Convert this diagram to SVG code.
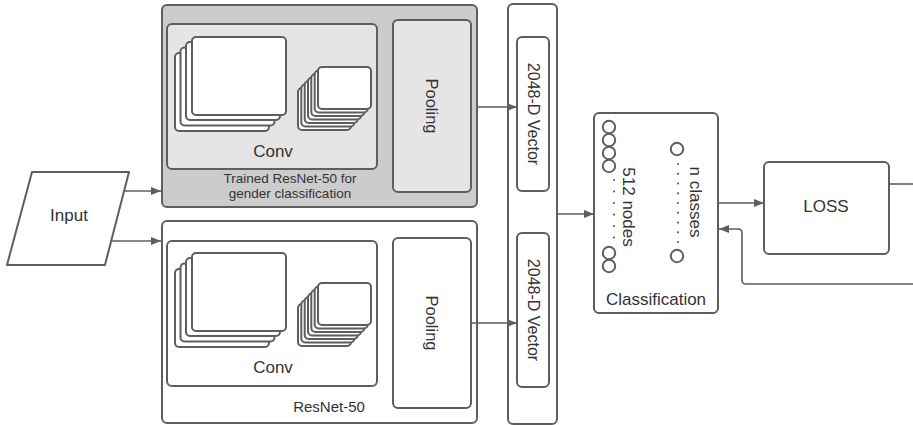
<svg xmlns="http://www.w3.org/2000/svg" width="913" height="425" viewBox="0 0 913 425">
<defs>
<style>
.s{stroke:#5e5e5e;stroke-width:2;fill:#ffffff}
.dk{fill:#cccccc}
.lt{fill:#e5e5e5}
.t{font-family:"Liberation Sans",Arial,sans-serif;fill:#333333;text-anchor:middle}
.c{fill:none;stroke:#5e5e5e;stroke-width:1.6}
.cir{fill:#ffffff;stroke:#5e5e5e;stroke-width:2}
.dot{fill:#5e5e5e}
</style>
<marker id="ah" viewBox="0 0 10 10" refX="10" refY="5" markerWidth="10" markerHeight="10" markerUnits="userSpaceOnUse" orient="auto">
<path d="M0,1 L10,5 L0,9 z" fill="#5e5e5e"/>
</marker>
<g id="bigstack">
<rect x="175" y="53" width="94" height="78" rx="4" class="s"/>
<rect x="180.5" y="47.5" width="94" height="78" rx="4" class="s"/>
<rect x="186" y="42" width="94" height="78" rx="4" class="s"/>
<rect x="192" y="37" width="94" height="78" rx="4" class="s"/>
</g>
<g id="smallstack">
<rect x="298" y="88" width="53" height="42" rx="4" class="s"/>
<rect x="301.3" y="84.5" width="53" height="42" rx="4" class="s"/>
<rect x="304.7" y="81" width="53" height="42" rx="4" class="s"/>
<rect x="308" y="77.5" width="53" height="42" rx="4" class="s"/>
<rect x="311.3" y="74" width="53" height="42" rx="4" class="s"/>
<rect x="314.7" y="70.5" width="53" height="42" rx="4" class="s"/>
<rect x="318" y="67" width="53" height="42" rx="4" class="s"/>
</g>
</defs>
<rect width="913" height="425" fill="#ffffff"/>

<g id="input">
<polygon points="32,172 129,172 105,265 7,265" class="s" stroke-linejoin="round"/>
<text x="69" y="221" class="t" font-size="17">Input</text>
</g>

<g id="trained-resnet">
<rect x="162" y="5" width="315" height="202" rx="5" class="s dk"/>
<rect x="167" y="24" width="210" height="145" rx="5" class="s lt"/>
<use href="#bigstack"/>
<use href="#smallstack"/>
<text x="273" y="157" class="t" font-size="17">Conv</text>
<text x="290" y="183" class="t" font-size="13.5">Trained ResNet-50 for</text>
<text x="290" y="198" class="t" font-size="13.5">gender classification</text>
<rect x="393" y="20" width="78" height="172" rx="5" class="s lt"/>
<text transform="translate(432,106) rotate(90)" class="t" font-size="16.5" dominant-baseline="central">Pooling</text>
</g>

<g id="resnet">
<rect x="162" y="221" width="315" height="202" rx="5" class="s"/>
<rect x="167" y="241" width="210" height="145" rx="5" class="s"/>
<use href="#bigstack" y="216"/>
<use href="#smallstack" y="216"/>
<text x="273" y="373" class="t" font-size="17">Conv</text>
<text x="329" y="412" class="t" font-size="15">ResNet-50</text>
<rect x="393" y="238" width="78" height="170" rx="5" class="s"/>
<text transform="translate(432,323) rotate(90)" class="t" font-size="16.5" dominant-baseline="central">Pooling</text>
</g>

<g id="vectors">
<rect x="508" y="4" width="49" height="420" rx="5" class="s"/>
<rect x="517" y="37" width="32" height="154" rx="5" class="s"/>
<text transform="translate(533,114) rotate(90)" class="t" font-size="16" dominant-baseline="central">2048-D Vector</text>
<rect x="517" y="233" width="32" height="154" rx="5" class="s"/>
<text transform="translate(533,310) rotate(90)" class="t" font-size="16" dominant-baseline="central">2048-D Vector</text>
</g>

<g id="classification">
<rect x="594" y="113" width="124" height="200" rx="5" class="s"/>
<circle cx="609" cy="127" r="6.2" class="cir"/>
<circle cx="609" cy="140" r="6.2" class="cir"/>
<circle cx="609" cy="153" r="6.2" class="cir"/>
<circle cx="609" cy="166" r="6.2" class="cir"/>
<g class="dot">
<circle cx="614" cy="180" r="1.1"/>
<circle cx="614" cy="191.5" r="1.1"/>
<circle cx="614" cy="203" r="1.1"/>
<circle cx="614" cy="214.5" r="1.1"/>
<circle cx="614" cy="226" r="1.1"/>
<circle cx="614" cy="237.5" r="1.1"/>
</g>
<circle cx="609" cy="253" r="6.2" class="cir"/>
<circle cx="609" cy="266" r="6.2" class="cir"/>
<text transform="translate(628,207) rotate(90)" class="t" font-size="17" dominant-baseline="central">512 nodes</text>
<circle cx="677" cy="149" r="6.2" class="cir"/>
<g class="dot">
<circle cx="678" cy="164" r="1.1"/>
<circle cx="678" cy="173.8" r="1.1"/>
<circle cx="678" cy="183.5" r="1.1"/>
<circle cx="678" cy="193.3" r="1.1"/>
<circle cx="678" cy="203" r="1.1"/>
<circle cx="678" cy="212.8" r="1.1"/>
<circle cx="678" cy="222.5" r="1.1"/>
<circle cx="678" cy="232.3" r="1.1"/>
<circle cx="678" cy="242" r="1.1"/>
</g>
<circle cx="677" cy="256" r="6.2" class="cir"/>
<text transform="translate(695,202) rotate(90)" class="t" font-size="17" dominant-baseline="central">n classes</text>
<text x="656" y="305" class="t" font-size="17">Classification</text>
</g>

<g id="loss">
<rect x="764" y="162" width="125" height="92" rx="5" class="s"/>
<text x="826" y="212" class="t" font-size="17">LOSS</text>
</g>

<g id="connectors">
<line x1="124" y1="191" x2="161" y2="191" class="c" marker-end="url(#ah)"/>
<line x1="111" y1="241" x2="161" y2="241" class="c" marker-end="url(#ah)"/>
<line x1="477" y1="107" x2="517" y2="107" class="c" marker-end="url(#ah)"/>
<line x1="471" y1="323" x2="517" y2="323" class="c" marker-end="url(#ah)"/>
<line x1="557" y1="214" x2="594" y2="214" class="c" marker-end="url(#ah)"/>
<line x1="718" y1="203" x2="764" y2="203" class="c" marker-end="url(#ah)"/>
<line x1="889" y1="184" x2="913" y2="184" class="c"/>
<path d="M913,284 L746,284 Q742,284 742,280 L742,233 Q742,229 738,229 L719,229" class="c" marker-end="url(#ah)"/>
</g>
</svg>
